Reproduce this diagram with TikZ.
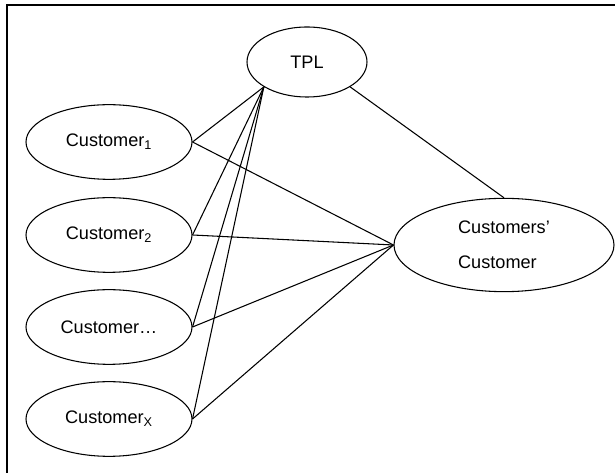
\documentclass[tikz,border=0pt]{standalone}
\usepackage{fontspec}
\setmainfont{Liberation Sans}
\usetikzlibrary{shapes.geometric}
\begin{document}
\begin{tikzpicture}[x=0.75pt,y=-0.75pt,line width=0.8pt,
    font=\fontsize{13.6}{16}\selectfont]

        \useasboundingbox (0,0) rectangle (615,473);
        \draw[line width=0.9pt] (7,473) -- (7,5) -- (615,5);

        \begin{scope}[every node/.style={ellipse,draw,inner sep=0pt}]
          \node[minimum width=90pt,minimum height=52.5pt] (tpl) at (307,62) {TPL};
          \node[minimum width=124.5pt,minimum height=56pt] (c1) at (109,142) {Customer\textsubscript{1}};
          \node[minimum width=124.5pt,minimum height=56pt] (c2) at (109,235) {Customer\textsubscript{2}};
          \node[minimum width=124.5pt,minimum height=56pt] (c3) at (109,327) {Customer…};
          \node[minimum width=124.5pt,minimum height=56pt] (cx) at (109,419) {Customer\textsubscript{X}};
          \node[minimum width=165pt,minimum height=70pt,align=left,
                font=\fontsize{13.6}{26}\selectfont] (cc) at (504,245) {Customers’\\Customer};
        \end{scope}

        \coordinate (foot) at (tpl.210);

        \begin{scope}[every edge/.style={draw}]
          \path (foot)    edge (c1.east);
          \path (foot)    edge (c2.east);
          \path (foot)    edge (c3.east);
          \path (foot)    edge (cx.east);
          \path (c1.east) edge (cc.west);
          \path (c2.east) edge (cc.west);
          \path (c3.east) edge (cc.west);
          \path (cx.east) edge (cc.west);
          \path (tpl.-30) edge (cc.north);
        \end{scope}

      \end{tikzpicture}
\end{document}
